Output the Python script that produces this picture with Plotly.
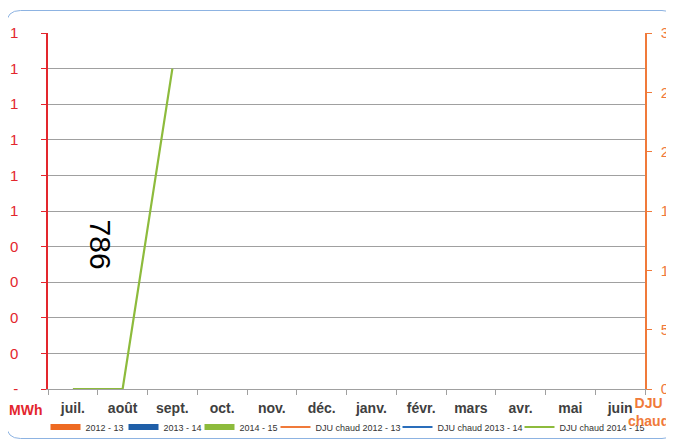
import plotly.graph_objects as go

# ---- data ----
months = ["juil.", "août", "sept.", "oct.", "nov.", "déc.", "janv.", "févr.", "mars", "avr.", "mai", "juin"]
mwh_2012_13 = [None, None, None, None, None, None, None, None, None, None, None, None]
mwh_2013_14 = [None, None, None, None, None, None, None, None, None, None, None, None]
mwh_2014_15 = [None, None, None, None, None, None, None, None, None, None, None, None]
dju_2012_13 = [None, None, None, None, None, None, None, None, None, None, None, None]
dju_2013_14 = [None, None, None, None, None, None, None, None, None, None, None, None]
dju_2014_15 = [0, 0, 27, None, None, None, None, None, None, None, None, None]
left_tickvals = [0, 0.1, 0.2, 0.3, 0.4, 0.5, 0.6, 0.7, 0.8, 0.9, 1.0]
left_ticktext = ["-", "0", "0", "0", "0", "1", "1", "1", "1", "1", "1"]
right_tickvals = [0, 5, 10, 15, 20, 25, 30]
data_label = "786"
data_label_pos = (0.55, 0.405)

# ---- styles ----
FONT = "Liberation Sans, Arial, sans-serif"
RED = "#E3262D"
ORANGE = "#F07A3A"
C_BAR12 = "#EE6A22"
C_BAR13 = "#1F5FA8"
C_BAR14 = "#8DBB3C"
C_L12 = "#F07A3A"
C_L13 = "#2A6EBB"
C_L14 = "#8DBB3C"
GRID = "#A0A0A0"

# page body has an 8px margin: figure is drawn offset by (8, 8) in the window
OFF = 8
FIG_W, FIG_H = 674 - OFF, 441 - OFF
# plot area in window pixels: left 48, right 645, top 33, bottom 389
L, R, T, B = 48, 645, 33, 389
W, H = R - L, B - T


def px(x):
    return (x - L) / W


def py(y):
    return (B - y) / H


# legend swatch left edges (window pixels) for each entry
legend_starts = [55, 133, 209, 285, 407, 529]

fig = go.Figure()

bars = [("2012 - 13", mwh_2012_13, C_BAR12),
        ("2013 - 14", mwh_2013_14, C_BAR13),
        ("2014 - 15", mwh_2014_15, C_BAR14)]
lines = [("DJU chaud 2012 - 13", dju_2012_13, C_L12),
         ("DJU chaud 2013 - 14", dju_2013_14, C_L13),
         ("DJU chaud 2014 - 15", dju_2014_15, C_L14)]

legend_font = dict(family=FONT, size=9, color="#333333")
legend_layouts = {}
for i in range(6):
    key = "legend" if i == 0 else f"legend{i + 1}"
    legend_layouts[key] = dict(orientation="h", x=px(legend_starts[i] - 9.5), xanchor="left",
                               y=py(427), yanchor="middle", font=legend_font,
                               bgcolor="rgba(0,0,0,0)", borderwidth=0)

for i, (name, vals, col) in enumerate(bars):
    key = "legend" if i == 0 else f"legend{i + 1}"
    fig.add_trace(go.Bar(x=months, y=vals, name=name, marker_color=col,
                         legendgroup=name, showlegend=False, yaxis="y"))
    # legend swatch (flat wide rectangle like the reference)
    fig.add_trace(go.Scatter(x=[None], y=[None], mode="lines", name=name,
                             legendgroup=name, line=dict(color=col, width=6),
                             yaxis="y", legend=key))

for j, (name, vals, col) in enumerate(lines):
    key = f"legend{j + 4}"
    fig.add_trace(go.Scatter(x=months, y=vals, name=name, mode="lines",
                             line=dict(color=col, width=2.2), yaxis="y2",
                             connectgaps=False, legend=key))

# rounded border
x0, y0, x1, y1, r = 6.5, 10.5, 676, 438.5, 14
path = (f"M {px(x0 + r)},{py(y0)} L {px(x1 - r)},{py(y0)} "
        f"Q {px(x1)},{py(y0)} {px(x1)},{py(y0 + r)} "
        f"L {px(x1)},{py(y1 - r)} Q {px(x1)},{py(y1)} {px(x1 - r)},{py(y1)} "
        f"L {px(x0 + r)},{py(y1)} Q {px(x0)},{py(y1)} {px(x0)},{py(y1 - r)} "
        f"L {px(x0)},{py(y0 + r)} Q {px(x0)},{py(y0)} {px(x0 + r)},{py(y0)} Z")
fig.add_shape(type="path", path=path, xref="paper", yref="paper",
              line=dict(color="#8DB3E2", width=1), layer="below")

fig.add_annotation(x=data_label_pos[0], y=data_label_pos[1], xref="x", yref="y",
                   text=data_label, showarrow=False, textangle=90,
                   xanchor="center", yanchor="middle",
                   font=dict(family=FONT, size=30, color="#000000"))
fig.add_annotation(x=px(25), y=py(410), xref="paper", yref="paper",
                   text="<b>MWh</b>", showarrow=False,
                   xanchor="center", yanchor="middle",
                   font=dict(family=FONT, size=14, color=RED))
fig.add_annotation(x=px(648), y=py(412), xref="paper", yref="paper",
                   text="<b>DJU</b><br><b>chaud</b>", showarrow=False,
                   xanchor="center", yanchor="middle",
                   font=dict(family=FONT, size=14, color=ORANGE),
                   align="center")

fig.update_layout(
    width=FIG_W, height=FIG_H,
    margin=dict(l=L - OFF, r=FIG_W - (R - OFF), t=T - OFF, b=FIG_H - (B - OFF),
                autoexpand=False),
    paper_bgcolor="white", plot_bgcolor="white",
    font=dict(family=FONT),
    barmode="group",
    showlegend=True,
    xaxis=dict(type="category", categoryorder="array", categoryarray=months,
               range=[-0.5, 11.5], showgrid=False, showline=True,
               linecolor="#A0A0A0", linewidth=1, ticks="outside", tickson="boundaries",
               ticklen=5, tickcolor="#A0A0A0",
               tickfont=dict(family=FONT, size=14, color="#404040", weight="bold"),
               ticklabelstandoff=6),
    yaxis=dict(range=[0, 1], tickvals=left_tickvals, ticktext=left_ticktext,
               showgrid=True, gridcolor=GRID, gridwidth=1, zeroline=False,
               showline=True, linecolor=RED, linewidth=1.5, ticks="outside",
               ticklen=5, tickcolor=RED,
               tickfont=dict(family=FONT, size=15, color=RED),
               ticklabelstandoff=20),
    yaxis2=dict(range=[0, 30], tickvals=right_tickvals, overlaying="y", side="right",
                showgrid=False, zeroline=False, showline=True, linecolor=ORANGE,
                linewidth=1.5, ticks="outside", ticklen=5, tickcolor=ORANGE,
                tickfont=dict(family=FONT, size=15, color=ORANGE),
                ticklabelstandoff=6),
    **legend_layouts,
)

fig.write_html("out.html")
